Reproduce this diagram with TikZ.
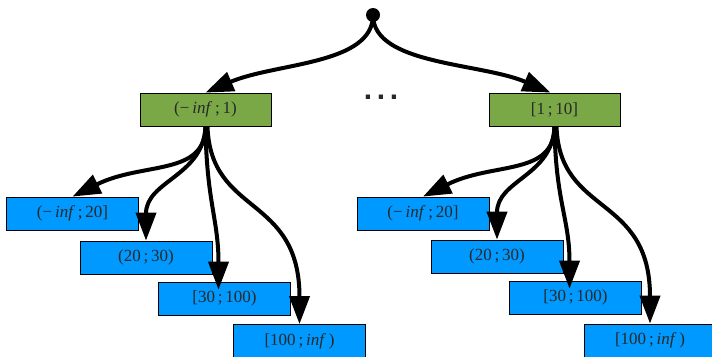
\documentclass[tikz,border=0pt]{standalone}
\usepackage{fontspec}
\setmainfont{Liberation Serif}
\setsansfont{Liberation Sans}
\usetikzlibrary{arrows.meta,calc}
\definecolor{gfill}{RGB}{122,168,70}
\definecolor{bfill}{RGB}{0,153,255}
\definecolor{txt}{RGB}{40,40,40}
\tikzset{
  box/.style={draw=black,line width=0.8pt,minimum height=33pt,inner sep=0pt,
    font=\fontsize{17}{19}\selectfont,text=txt},
  gbox/.style={box,fill=gfill,minimum width=131pt},
  bbox/.style={box,fill=bfill,minimum width=132pt},
  link/.style={line width=4pt,-{Triangle[length=28pt,width=20pt]}},
}
\newcommand{\ninf}{\textit{inf}}
\begin{document}
\begin{tikzpicture}[x=1pt,y=-1pt]
\useasboundingbox (0,0) rectangle (712,356);
% root
\node[circle,fill=black,minimum size=14pt,inner sep=0pt] (r) at (373,15) {};
\node[font=\sffamily\bfseries\fontsize{30}{30}\selectfont,text=txt,anchor=base] (dots) at (381,99) {.\kern4.7pt.\kern4.7pt.};
% level 1
\node[gbox] (g1) at (205.5,109.5) {(−\,\ninf\,;\,1)};
\node[gbox] (g2) at (554.5,109.5) {[1\,;\,10]};
% left children
\node[bbox] (a1) at (72.5,213.5) {(−\,\ninf\,;\,20]};
\node[bbox] (a2) at (146,257.5) {(20\,;\,30)};
\node[bbox] (a3) at (224.5,298.5) {[30\,;\,100)};
\node[bbox] (a4) at (299.5,341) {[100\,;\,\ninf\,)};
% right children
\node[bbox] (c1) at (423,213.5) {(−\,\ninf\,;\,20]};
\node[bbox] (c2) at (497,256.5) {(20\,;\,30)};
\node[bbox] (c3) at (575.5,297.5) {[30\,;\,100)};
\node[bbox] (c4) at (650,340.5) {[100\,;\,\ninf\,)};
% root edges
\draw[link] (r.center) .. controls +(0,50) and +(70,-30) .. (g1.north);
\draw[link] (r.center) .. controls +(0,50) and +(-70,-30) .. ($(g2.north)+(-4,0)$);
% left subtree edges
\draw[link] (g1.south) .. controls +(0,50) and +(70,-35) .. (a1.north);
\draw[link] (g1.south) .. controls +(-2,50) and +(0,-60) .. (a2.north);
\draw[link] (g1.south) .. controls +(1,75) and +(0,-70) .. ($(a3.north)+(-6,8)$);
\draw[link] ($(g1.south)+(2,0)$) .. controls +(3,90) and +(0,-130) .. (a4.north);
% right subtree edges
\draw[link] (g2.south) .. controls +(0,50) and +(70,-35) .. (c1.north);
\draw[link] (g2.south) .. controls +(-2,50) and +(0,-60) .. (c2.north);
\draw[link] (g2.south) .. controls +(1,75) and +(0,-70) .. ($(c3.north)+(-6,8)$);
\draw[link] ($(g2.south)+(2,0)$) .. controls +(3,90) and +(0,-130) .. (c4.north);
\end{tikzpicture}
\end{document}
